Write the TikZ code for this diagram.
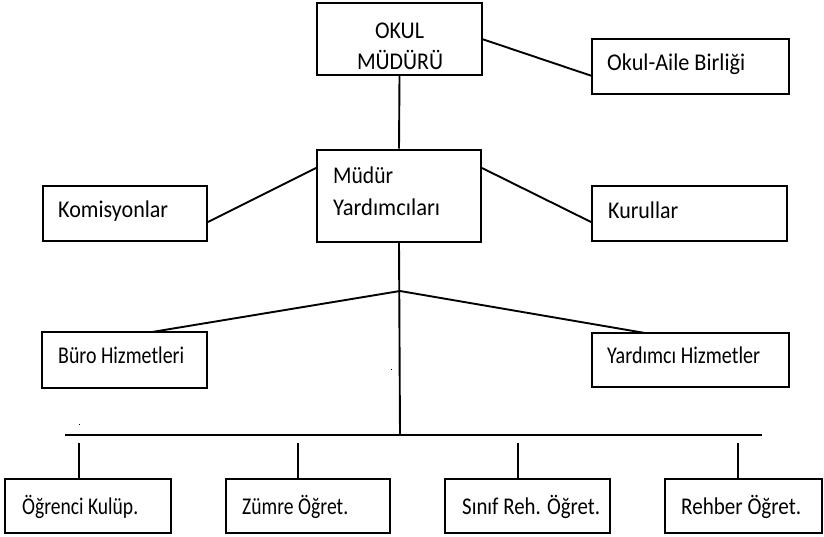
\documentclass[tikz,border=0pt]{standalone}
\usepackage{fontspec}
\usepackage{graphicx}
\setmainfont{Carlito}
\newcommand\fitw[2]{\resizebox{#1}{\height}{#2}}
\tikzset{
  box/.style={draw, line width=2pt, rectangle, inner sep=0pt},
  lbl/.style={anchor=west, inner sep=0pt, font=\fontsize{24}{28}\selectfont},
  clbl/.style={anchor=center, inner sep=0pt, font=\fontsize{24}{28}\selectfont},
  conn/.style={line width=1.9pt},
}
\begin{document}
\begin{tikzpicture}[x=1pt,y=-1pt]
\useasboundingbox (0,0) rectangle (824,536);
% boxes
\node[box, minimum width=165pt, minimum height=72pt] (okul) at (399.5,39) {};
\node[box, minimum width=197pt, minimum height=55pt] (aile) at (690.5,66.5) {};
\node[box, minimum width=164pt, minimum height=92pt] (mudyar) at (399,195.5) {};
\node[box, minimum width=164pt, minimum height=55pt] (komis) at (125,213.5) {};
\node[box, minimum width=195pt, minimum height=55pt] (kurul) at (689.5,213.5) {};
\node[box, minimum width=165pt, minimum height=56pt] (buro) at (124.5,360) {};
\node[box, minimum width=197pt, minimum height=54pt] (yrd) at (690.5,360) {};
\node[box, minimum width=166pt, minimum height=54pt] (ogr) at (88,506) {};
\node[box, minimum width=164pt, minimum height=54pt] (zum) at (308,506) {};
\node[box, minimum width=165pt, minimum height=54pt] (sinif) at (527.5,506) {};
\node[box, minimum width=157pt, minimum height=54pt] (rehber) at (743.5,506) {};
% texts
\node[clbl] (tokul1) at (399.5,31) {\fitw{49pt}{OKUL}};
\node[clbl] (tokul2) at (400,60) {\fitw{86pt}{MÜDÜRÜ}};
\node[lbl] (taile) at (607,64) {\fitw{138pt}{Okul-Aile Birliği}};
\node[lbl] (tmud1) at (333,175) {\fitw{60pt}{Müdür}};
\node[lbl] (tmud2) at (333,207) {\fitw{107pt}{Yardımcıları}};
\node[lbl] (tkom) at (58,211) {\fitw{110pt}{Komisyonlar}};
\node[lbl] (tkur) at (608,210) {\fitw{70pt}{Kurullar}};
\node[lbl] (tburo) at (58,355) {\fitw{126pt}{Büro Hizmetleri}};
\node[lbl] (tyrd) at (607,355) {\fitw{153pt}{Yardımcı Hizmetler}};
\node[lbl] (togr) at (22,507) {\fitw{116pt}{Öğrenci Kulüp.}};
\node[lbl] (tzum) at (242,507) {\fitw{106pt}{Zümre Öğret.}};
\node[lbl] (tsin) at (462,507) {\fitw{138pt}{Sınıf Reh. Öğret.}};
\node[lbl] (treh) at (681,507) {\fitw{120pt}{Rehber Öğret.}};
% coordinates
\coordinate (j1) at (400,291);
\coordinate (hl) at (65,435);
\coordinate (hr) at (762,435);
\coordinate (hm) at (400,435);
\coordinate (d1) at (79,443);
\coordinate (d2) at (298,443);
\coordinate (d3) at (518,443);
\coordinate (d4) at (738,443);
% connectors
\draw[conn] (okul.south) -- (mudyar.north);
\draw[conn] (482,39) -- (592,76);
\draw[conn] (komis.east |- 0,222) -- (mudyar.west |- 0,168);
\draw[conn] (mudyar.east |- 0,168) -- (kurul.west |- 0,222);
\draw[conn] (mudyar.south) -- (hm);
\draw[conn] (152,332) -- (j1) -- (645,333);
\draw[conn] (hl) -- (hr);
\draw[conn] (d1) -- (d1 |- ogr.north);
\draw[conn] (d2) -- (d2 |- zum.north);
\draw[conn] (d3) -- (d3 |- sinif.north);
\draw[conn] (d4) -- (d4 |- rehber.north);
% stray dots
\fill (390.5,368.5) rectangle (391.5,369.5);
\fill (78.5,423.5) rectangle (79.5,424.5);
\end{tikzpicture}
\end{document}
